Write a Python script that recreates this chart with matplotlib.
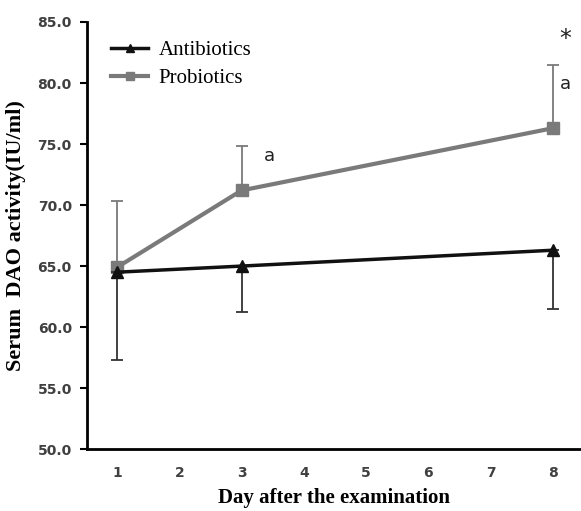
import matplotlib.pyplot as plt
from matplotlib.lines import Line2D

days = [1, 3, 8]
antibiotics = [64.5, 65.0, 66.3]
antibiotics_low = [57.3, 61.2, 61.5]
probiotics = [64.9, 71.2, 76.3]
probiotics_high = [70.35, 74.85, 81.45]

ab_err = [[m - lo for m, lo in zip(antibiotics, antibiotics_low)], [0, 0, 0]]
pb_err = [[0, 0, 0], [hi - m for m, hi in zip(probiotics, probiotics_high)]]

grey = "#7a7a7a"
dark = "#111111"

fig = plt.figure(figsize=(5.81, 5.11), dpi=100)
ax = fig.add_axes([0.15, 0.121, 0.85, 0.836])

ax.errorbar(days, probiotics, yerr=pb_err, color=grey, lw=3, marker="s", ms=9,
            ecolor=grey, elinewidth=1.3, capsize=4, capthick=1.3, zorder=2)
ax.errorbar(days, antibiotics, yerr=ab_err, color=dark, lw=2.5, marker="^", ms=9,
            ecolor="#333333", elinewidth=1.3, capsize=4, capthick=1.3, zorder=3)

ax.text(3.45, 74.0, "a", fontsize=13, ha="center", va="center", color="#222222")
ax.text(8.2, 79.9, "a", fontsize=13, ha="center", va="center", color="#222222")
ax.text(8.2, 83.6, "*", fontsize=17, ha="center", va="center", color="#222222")

ax.set_xlim(0.52, 8.45)
ax.set_ylim(50, 85)
ax.set_xticks(range(1, 9))
yt = [50, 55, 60, 65, 70, 75, 80, 85]
ax.set_yticks(yt)
ax.set_yticklabels([f"{v:.1f}" for v in yt])
for lbl in ax.get_xticklabels() + ax.get_yticklabels():
    lbl.set_fontweight("bold")
    lbl.set_color("#404040")
    lbl.set_fontsize(10)
ax.tick_params(axis="x", length=0, pad=12)
ax.tick_params(axis="y", length=5, width=1.5, pad=6)

for s in ["top", "right"]:
    ax.spines[s].set_visible(False)
ax.spines["left"].set_linewidth(2)
ax.spines["bottom"].set_linewidth(2)

ax.set_xlabel("Day after the examination", family="Liberation Serif", fontweight="bold", fontsize=15, labelpad=6)
ax.set_ylabel("Serum  DAO activity(IU/ml)", family="Liberation Serif", fontweight="bold", fontsize=16, labelpad=8)

handles = [Line2D([], [], color=dark, lw=2.5, marker="^", ms=6),
           Line2D([], [], color=grey, lw=3, marker="s", ms=6)]
ax.legend(handles, ["Antibiotics", "Probiotics"], loc="upper left", bbox_to_anchor=(0.01, 1.0), frameon=False,
          prop={"family": "Liberation Serif", "size": 15}, handlelength=1.8, handletextpad=0.5, labelspacing=0.4)

fig.savefig("out.png", dpi=100)
